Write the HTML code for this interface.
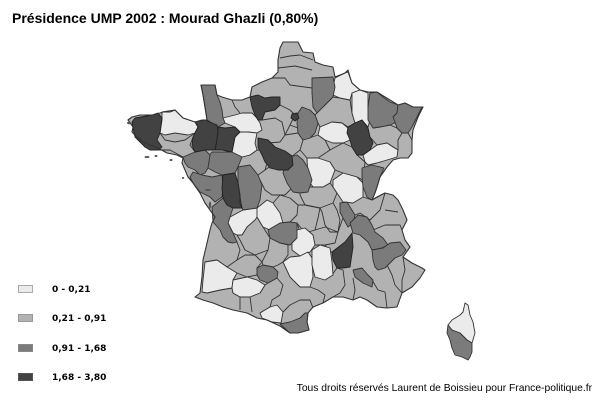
<!DOCTYPE html>
<html><head><meta charset="utf-8"><style>
html,body{margin:0;padding:0;background:#fff;}
svg{display:block;}
</style></head><body>
<svg width="600" height="400" viewBox="0 0 600 400" xmlns="http://www.w3.org/2000/svg">
<rect width="600" height="400" fill="#fff"/>
<text x="12" y="23" font-family="Liberation Sans, Arial, sans-serif" font-weight="bold" font-size="14" fill="#000">Présidence UMP 2002 : Mourad Ghazli (0,80%)</text>

<!-- France outline base -->
<path d="M283,42 L298,42 L303,52 L313,53 L315,62 L323,65 L333,67 L335,77 L345,73 L348,70 L350,77 L352,83 L360,90 L368,92 L377,92 L390,100 L398,105 L405,103 L413,107 L423,107 L418,117 L413,130 L412,140 L412,153 L408,158 L400,158 L393,160 L387,167 L380,177 L377,187 L375,193 L372,200 L377,197 L385,193 L393,195 L398,200 L403,210 L407,220 L402,230 L405,240 L410,247 L403,257 L412,263 L422,268 L425,270 L420,278 L412,287 L402,293 L397,307 L387,308 L377,307 L367,300 L360,297 L353,300 L343,297 L333,297 L323,303 L313,307 L308,313 L307,322 L309,330 L298,333 L290,333 L280,326 L267,320 L257,318 L247,313 L233,310 L223,307 L213,303 L203,300 L195,297 L200,293 L202,277 L203,260 L207,243 L210,230 L212,223 L215,217 L210,210 L205,203 L200,193 L193,183 L188,177 L185,170 L182,163 L183,158 L177,155 L167,153 L158,148 L150,145 L143,142 L137,137 L132,132 L133,127 L128,120 L132,117 L140,115 L153,115 L160,113 L163,112 L170,112 L175,110 L183,118 L195,122 L202,120 L207,120 L205,107 L203,95 L201,85 L215,85 L217,95 L222,97 L232,100 L242,100 L250,97 L252,87 L262,82 L272,78 L278,72 L278,60 L280,48 Z" fill="#b2b2b2" stroke="none"/>

<!-- internal borders for medium departments -->
<g fill="none" stroke="#333" stroke-width="0.9" stroke-linejoin="round">
<polyline points="280,58 290,56 300,55 313,60"/>
<polyline points="278,68 295,66 312,70"/>
<polyline points="272,78 285,78 290,85 312,88"/>
<polyline points="262,120 275,118 282,122 285,135 280,142 268,143"/>
<polyline points="280,105 290,110 295,115 290,125 285,135"/>
<polyline points="290,125 298,128"/>
<polyline points="285,135 298,133 303,140 300,150 290,158"/>
<polyline points="303,140 318,135 325,140 330,150 318,158 307,158 300,150"/>
<polyline points="330,150 343,143 352,147 357,155 365,162 363,180 357,177 343,173 335,170 330,162"/>
<polyline points="323,107 333,97 340,98 350,100 352,113 355,123 348,127 342,123 332,122 320,127 318,123 315,115 317,113"/>
<polyline points="373,128 380,127 390,125 397,128 402,133 398,140 398,150 387,143 377,145 370,137"/>
<polyline points="402,133 408,133 412,140"/>
<polyline points="242,157 250,155 257,150 262,150 268,160 265,170 258,175 250,170 238,167"/>
<polyline points="265,170 272,165 278,168 288,168 288,177 293,187 285,195 272,195 265,190 260,180"/>
<polyline points="307,187 313,187 323,187 330,183 333,187 337,193 333,203 320,208 305,205 300,195 300,190"/>
<polyline points="273,203 280,195 290,198 298,205 297,215 290,222 280,223 280,213"/>
<polyline points="298,205 305,205 320,208 318,218 315,230 305,233 297,223"/>
<polyline points="333,203 337,210 340,220 338,232 330,232 325,225 322,212 320,208"/>
<polyline points="315,230 325,227 338,232 335,243 325,245 313,245"/>
<polyline points="363,197 372,200 385,193 380,210 370,220 360,213 355,215"/>
<polyline points="373,230 385,225 400,225 402,230"/>
<polyline points="385,210 398,212"/>
<polyline points="243,210 257,217 263,227 270,238 268,250 255,255 245,250 240,240 237,235 242,235 247,227"/>
<polyline points="215,217 228,223 233,233 237,242 240,250 237,260 227,267 217,260 205,262"/>
<polyline points="237,260 245,255 255,255 262,262 257,268 257,275 247,277 237,273"/>
<polyline points="270,238 280,243 288,245 288,255 283,262 278,265 273,267 263,265 262,262 268,250"/>
<polyline points="203,292 207,293 220,290 232,288 233,293 240,297 240,310"/>
<polyline points="240,297 250,297 252,312"/>
<polyline points="260,293 265,285 268,283 277,278 283,285 280,295 272,300 270,307 260,313"/>
<polyline points="283,312 290,305 300,300 310,300 313,308"/>
<polyline points="310,287 318,290 325,295 323,303"/>
<polyline points="317,260 332,275 337,268 343,270 345,285 340,293 333,297"/>
<polyline points="353,278 355,290 353,300"/>
<polyline points="372,280 378,290 385,292 387,308"/>
<polyline points="387,265 392,275 395,285 402,293"/>
<polyline points="403,257 405,270 402,280 402,293"/>
<polyline points="325,245 330,252 332,252"/>
<polyline points="160,133 165,140 175,142 185,140 195,133"/>
<polyline points="145,147 158,150 170,150 183,157"/>
<polyline points="195,152 190,145 193,137"/>
<polyline points="232,100 235,107 240,113"/>
<polyline points="250,97 258,95"/>
<polyline points="343,218 338,232"/>
<polyline points="297,223 300,232"/>
</g>

<!-- light -->
<g fill="#ebebeb" stroke="#333" stroke-width="0.9" stroke-linejoin="round">
<polygon points="162,112 175,110 183,118 195,122 198,127 195,133 188,135 175,133 165,135 160,133 162,120"/>
<polygon points="223,118 235,115 242,113 252,113 257,118 260,123 262,130 257,133 248,132 240,132 235,127 225,123"/>
<polygon points="240,132 248,132 257,133 255,143 257,150 250,155 242,157 233,153 232,152 233,147 235,137"/>
<polygon points="230,217 243,210 257,208 260,213 255,220 247,227 242,235 237,235 233,233 228,223"/>
<polygon points="257,208 267,200 273,203 280,213 283,223 270,230 263,227 257,217"/>
<polygon points="205,262 217,260 227,267 237,273 233,280 232,288 220,290 207,293 202,292 203,280"/>
<polygon points="233,280 247,277 257,280 265,285 260,293 250,297 240,297 233,293 232,288"/>
<polygon points="260,313 270,307 277,305 283,312 281,323 272,322 262,318"/>
<polygon points="297,230 305,228 313,235 315,245 310,252 300,256 292,250 292,240"/>
<polygon points="283,262 290,257 300,256 308,252 312,258 313,277 310,287 300,287 290,277"/>
<polygon points="312,250 320,245 330,248 332,262 333,275 325,280 315,277 312,265"/>
<polygon points="320,127 332,122 342,123 348,128 350,140 343,143 333,143 325,140 318,135"/>
<polygon points="335,78 345,73 348,72 352,83 360,90 352,93 350,100 340,98 333,95 333,87"/>
<polygon points="352,93 360,90 368,93 368,107 370,120 368,127 362,120 355,123 352,113"/>
<polygon points="363,155 370,150 377,145 387,143 393,147 398,150 397,157 387,160 377,163 368,165 365,162"/>
<polygon points="307,158 318,158 330,162 335,170 330,183 323,187 313,187 308,180"/>
<polygon points="333,180 343,173 357,177 363,183 363,197 353,203 343,202 337,193 333,187"/>
<polygon points="465,303 468,305 470,315 473,322 475,333 472,343 467,340 460,333 452,330 448,325 452,320 460,315 463,312"/>
</g>

<!-- dark-medium -->
<g fill="#7b7b7b" stroke="#333" stroke-width="0.9" stroke-linejoin="round">
<polygon points="201,85 215,85 217,95 220,102 222,110 223,118 225,123 218,127 212,123 207,120 205,107 203,95"/>
<polygon points="212,152 232,152 242,157 238,167 235,173 222,175 215,172 208,168 205,160"/>
<polygon points="183,157 195,152 205,150 210,155 208,168 205,173 200,175 195,170 188,167 185,163"/>
<polygon points="190,177 193,172 202,175 212,177 222,175 223,187 222,197 215,202 210,197 200,192 193,183"/>
<polygon points="238,167 250,165 258,175 262,185 260,200 257,208 243,210 242,208 240,197 238,183"/>
<polygon points="212,207 223,198 227,205 233,208 230,217 228,223 233,233 237,242 233,243 228,242 223,237 220,230 213,222"/>
<polygon points="268,230 280,223 290,222 297,223 297,238 290,245 280,243 270,238"/>
<polygon points="257,268 263,265 273,267 278,272 277,278 268,283 260,280 257,275"/>
<polygon points="280,324 290,322 300,318 305,313 308,313 307,322 309,330 298,333 290,333"/>
<polygon points="362,168 372,165 384,168 380,177 377,187 375,193 372,200 367,197 363,187 362,177"/>
<polygon points="340,203 347,202 350,207 355,215 353,223 348,227 343,218 340,212"/>
<polygon points="350,223 358,215 367,217 372,225 375,232 383,238 388,245 382,248 372,250 368,242 360,235 353,233"/>
<polygon points="372,250 383,248 390,243 400,242 406,250 402,255 395,258 390,263 385,268 378,270 375,267 373,260"/>
<polygon points="353,270 362,268 368,275 373,280 372,287 363,283 355,277"/>
<polygon points="312,78 333,77 335,87 333,97 323,107 317,113 313,107 312,93"/>
<polygon points="370,93 377,92 383,97 390,102 398,105 397,113 393,117 397,122 390,125 380,127 373,128 368,120 368,107"/>
<polygon points="398,105 405,103 413,107 422,107 417,117 412,127 408,133 402,133 397,128 395,122 393,117 397,113"/>
<polygon points="302,107 310,110 315,115 318,123 315,133 310,138 303,140 298,133 297,123 298,113"/>
<polygon points="287,158 297,155 303,160 308,168 312,180 308,192 300,193 293,192 287,183 283,173"/>
<polygon points="448,325 452,330 460,333 467,340 472,343 472,352 470,357 468,360 462,357 455,355 452,348 450,340 447,333"/>
</g>

<!-- darkest -->
<g fill="#424242" stroke="#222" stroke-width="0.9" stroke-linejoin="round">
<polygon points="135,118 152,115 158,113 162,118 160,133 157,140 162,147 158,150 150,150 145,147 138,140 135,137 133,128 132,122"/>
<polygon points="195,122 205,120 212,123 217,125 218,130 217,140 215,150 205,150 195,152 192,145 193,137 198,127"/>
<polygon points="218,127 225,128 235,127 240,132 235,137 233,147 232,152 222,150 215,150 217,140 218,130"/>
<polygon points="250,97 258,95 265,98 272,97 280,97 280,105 275,110 265,112 262,120 258,120 255,115 252,107"/>
<polygon points="258,138 268,140 275,147 285,151 292,156 293,165 288,170 278,170 270,168 265,162 262,155 258,147"/>
<polygon points="223,175 235,173 238,183 240,195 240,203 242,208 233,208 227,205 223,198 222,188"/>
<polygon points="348,127 355,123 362,120 368,128 370,137 373,143 370,150 363,155 357,155 352,147 350,140 347,133"/>
<polygon points="332,252 345,242 352,233 353,247 350,267 343,268 337,268 333,260"/>
<polygon points="292,114 297,113 299,118 295,121 291,118"/>
</g>

<!-- outline stroke -->
<path d="M283,42 L298,42 L303,52 L313,53 L315,62 L323,65 L333,67 L335,77 L345,73 L348,70 L350,77 L352,83 L360,90 L368,92 L377,92 L390,100 L398,105 L405,103 L413,107 L423,107 L418,117 L413,130 L412,140 L412,153 L408,158 L400,158 L393,160 L387,167 L380,177 L377,187 L375,193 L372,200 L377,197 L385,193 L393,195 L398,200 L403,210 L407,220 L402,230 L405,240 L410,247 L403,257 L412,263 L422,268 L425,270 L420,278 L412,287 L402,293 L397,307 L387,308 L377,307 L367,300 L360,297 L353,300 L343,297 L333,297 L323,303 L313,307 L308,313 L307,322 L309,330 L298,333 L290,333 L280,326 L267,320 L257,318 L247,313 L233,310 L223,307 L213,303 L203,300 L195,297 L200,293 L202,277 L203,260 L207,243 L210,230 L212,223 L215,217 L210,210 L205,203 L200,193 L193,183 L188,177 L185,170 L182,163 L183,158 L177,155 L167,153 L158,148 L150,145 L143,142 L137,137 L132,132 L133,127 L128,120 L132,117 L140,115 L153,115 L160,113 L163,112 L170,112 L175,110 L183,118 L195,122 L202,120 L207,120 L205,107 L203,95 L201,85 L215,85 L217,95 L222,97 L232,100 L242,100 L250,97 L252,87 L262,82 L272,78 L278,72 L278,60 L280,48 Z" fill="none" stroke="#333" stroke-width="1.1" stroke-linejoin="round"/>
<g fill="#555">
<ellipse cx="129" cy="123" rx="2" ry="1.2"/>
<ellipse cx="147" cy="157" rx="2.5" ry="1"/>
<ellipse cx="156" cy="156" rx="1.5" ry="1"/>
<ellipse cx="171" cy="160" rx="1.5" ry="1"/>
<ellipse cx="208" cy="190" rx="3" ry="1"/>
<ellipse cx="210" cy="205" rx="1.2" ry="3.5"/>
<ellipse cx="183" cy="178" rx="1.2" ry="1"/>
</g>

<!-- legend -->
<g stroke-width="1">
<rect x="18.5" y="285.5" width="14" height="7" fill="#ebebeb" stroke="#aaa"/>
<rect x="18.5" y="314.5" width="14" height="7" fill="#b2b2b2" stroke="#999"/>
<rect x="18.5" y="344.5" width="14" height="7" fill="#7b7b7b" stroke="#888"/>
<rect x="18.5" y="373.5" width="14" height="7" fill="#424242" stroke="#555"/>
</g>
<g font-family="DejaVu Sans, Verdana, sans-serif" font-weight="bold" font-size="9" fill="#000">
<text x="52" y="292">0 - 0,21</text>
<text x="52" y="321">0,21 - 0,91</text>
<text x="52" y="351">0,91 - 1,68</text>
<text x="52" y="380">1,68 - 3,80</text>
</g>

<text x="592" y="391" text-anchor="end" font-family="Liberation Sans, Arial, sans-serif" font-size="10.3" fill="#000">Tous droits réservés Laurent de Boissieu pour France-politique.fr</text>
</svg>
</body></html>
